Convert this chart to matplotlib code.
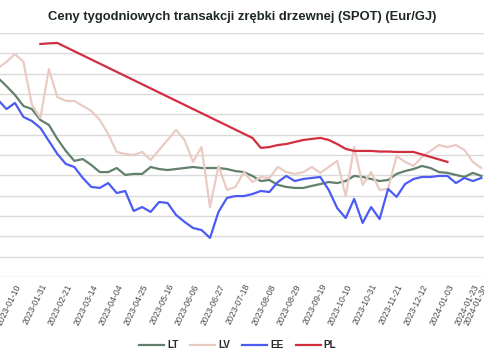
import numpy as np
import pandas as pd
import matplotlib
matplotlib.use('Agg')
import matplotlib.pyplot as plt

plt.rcParams['font.family'] = ['Liberation Sans', 'DejaVu Sans']

# weekly auction dates (one holiday shift at the new year)
weeks = [d.strftime('%Y-%m-%d') for d in pd.date_range('2022-12-27', periods=58, freq='7D')]
weeks[53] = '2024-01-03'

# prices (Eur/GJ, one value per week)
lt = [9.79, 9.39, 8.95, 8.41, 8.26, 7.72, 7.48, 6.79, 6.20, 5.71,
      5.80, 5.51, 5.16, 5.16, 5.36, 5.02, 5.07, 5.07, 5.41, 5.31,
      5.26, 5.31, 5.36, 5.41, 5.36, 5.36, 5.36, 5.31, 5.21, 5.16,
      4.97, 4.72, 4.77, 4.53, 4.43, 4.38, 4.38, 4.48, 4.57, 4.67,
      4.62, 4.72, 4.97, 4.92, 4.82, 4.72, 4.77, 5.07, 5.21, 5.31,
      5.46, 5.36, 5.16, 5.12, 5.02, 4.92, 5.12, 4.97]
lv = [10.28, 10.58, 10.97, 10.58, 8.46, 7.82, 10.23, 8.85, 8.66, 8.66,
      8.41, 8.17, 7.72, 7.03, 6.15, 6.05, 6.00, 6.15, 5.76, 6.25,
      6.74, 7.23, 6.74, 5.66, 6.39, 3.44, 5.46, 4.28, 4.43, 5.16,
      4.67, 4.92, 4.87, 5.41, 5.16, 5.07, 5.16, 5.41, 5.12, 5.41,
      5.71, 3.98, 6.39, 4.53, 5.16, 4.28, 4.33, 5.95, 5.66, 5.46,
      5.90, 6.20, 6.49, 6.39, 6.49, 6.25, 5.66, 5.36]
ee = [8.71, 8.26, 8.56, 7.87, 7.67, 7.33, 6.69, 6.05, 5.56, 5.41,
      4.87, 4.43, 4.38, 4.62, 4.13, 4.23, 3.25, 3.44, 3.20, 3.69,
      3.64, 3.05, 2.71, 2.41, 2.31, 1.92, 3.20, 3.89, 3.98, 3.98,
      4.08, 4.23, 4.18, 4.67, 4.97, 4.72, 4.82, 4.87, 4.92, 4.28,
      3.39, 2.90, 3.84, 2.66, 3.44, 2.85, 4.33, 3.94, 4.57, 4.82,
      4.92, 4.92, 4.97, 4.97, 4.62, 4.87, 4.72, 4.87]
nan = np.nan
pl = [nan, nan, nan, nan, nan, 11.46, 11.49, 11.51, nan, nan,
      nan, nan, nan, nan, nan, nan, nan, nan, nan, nan,
      nan, nan, nan, nan, nan, nan, nan, nan, nan, nan,
      6.84, 6.35, 6.39, 6.49, 6.54, 6.64, 6.74, 6.79, 6.84, 6.74,
      6.54, 6.30, 6.20, 6.20, 6.20, 6.17, 6.17, 6.15, 6.15, 6.15,
      nan, nan, nan, 5.66, nan, nan, nan, nan]

series = [('LT', lt, '#62806b'), ('LV', lv, '#eacbc3'),
          ('EE', ee, '#4b5cf4'), ('PL', pl, '#d12e3e')]

fig = plt.figure(figsize=(4.85, 3.6), dpi=100)
ax = fig.add_axes([0, 83 / 360, 1, 244 / 360])

x = np.arange(len(weeks))
for name, vals, col in series:
    v = np.array(vals, dtype=float)
    ok = ~np.isnan(v)  # gaps are bridged like the source chart
    ax.plot(x[ok], v[ok], color=col, lw=1.6, label=name, solid_joinstyle='round')

ax.set_ylim(0, 12)
ax.set_yticks(np.arange(0, 13))
ax.set_xlim(2 / 8.48, 487 / 8.48)
ax.grid(axis='y', color='#dadada', lw=1)
ax.set_axisbelow(True)
for s in ax.spines.values():
    s.set_visible(False)
ax.tick_params(axis='y', left=False, labelleft=False)

ticks = list(range(2, len(weeks), 3)) + [len(weeks) - 1]
ax.set_xticks(ticks)
ax.set_xticklabels([weeks[i] for i in ticks], rotation=64, ha='right',
                   rotation_mode='anchor', fontsize=6.2, color='#4a4a4a')
ax.tick_params(axis='x', length=0, pad=4)

fig.suptitle('Ceny tygodniowych transakcji zrębki drzewnej (SPOT) (Eur/GJ)',
             x=0.5, y=1 - 17 / 360, va='center', fontsize=9.4,
             fontweight='bold', color='#1e2626')

leg = fig.legend(loc='center', bbox_to_anchor=(0.49, 1 - 345 / 360), ncol=4,
                 frameon=False, handlelength=2.5, handletextpad=0.3,
                 columnspacing=1.2, prop={'size': 7.2, 'weight': 'bold'})
for t in leg.get_texts():
    t.set_color('#2a2a2a')

plt.savefig('out.png', dpi=100)
